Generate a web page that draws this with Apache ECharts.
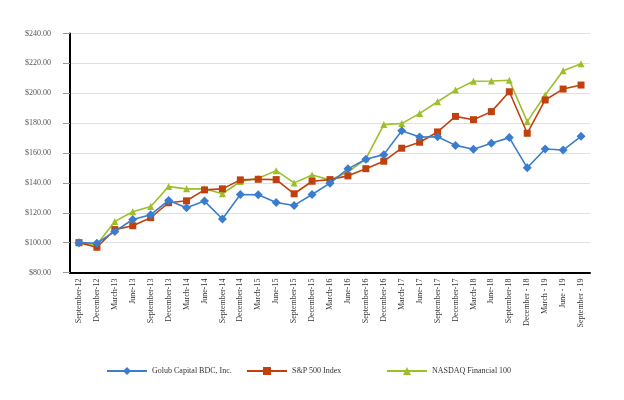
<!DOCTYPE html>
<html>
<head>
<meta charset="utf-8">
<script src="https://cdn.jsdelivr.net/npm/echarts@6/dist/echarts.min.js"></script>
<style>html,body{margin:0;padding:0;background:#fff}#c{width:624px;height:400px}</style>
</head>
<body>
<div id="c"></div>
<script>
const categories = ["September-12","December-12","March-13","June-13","September-13","December-13","March-14","June-14","September-14","December-14","March-15","June-15","September-15","December-15","March-16","June-16","September-16","December-16","March-17","June-17","September-17","December-17","March-18","June-18","September-18","December - 18","March - 19","June - 19","September - 19"];
const golub = [100,99.6,107.5,115.5,118.7,128.2,123.3,127.8,115.8,132.2,132,126.9,124.9,132.2,139.8,149.4,155.8,158.9,174.9,170.7,170.9,165.1,162.5,166.5,170.3,150.1,162.7,162,171.2];
const sp500 = [100,96.9,108.7,111.3,116.7,126.7,128,135.3,136,142,142.4,142.2,132.7,141.1,142.2,144.7,149.5,154.5,163.2,167.2,174.1,184.5,182.3,187.7,201,173.2,195.5,202.8,205.5];
const nasdaq = [100,98.7,114.2,120.7,124.2,137.5,136,136,132.7,140.9,143.1,148.2,140,145.3,142,147.2,156.1,179,179.7,186.5,194.3,202.1,208,208.2,208.7,181,198.8,215,219.8];
const yTicksMin = 80, yTicksMax = 240, yStep = 20;
const names = ["Golub Capital BDC, Inc.","S&P 500 Index","NASDAQ Financial 100"];
const colors = ["#3b7dcc","#c0410d","#9dbf2c"];
const font = "'Liberation Serif', 'Times New Roman', serif";

const chart = echarts.init(document.getElementById('c'), null, {renderer:'canvas'});
const legendLefts = [101, 241, 381];
chart.setOption({
  animation:false,
  backgroundColor:'#fff',
  grid:{left:70, right:34, top:33.5, bottom:127.5, containLabel:false},
  legend: names.map((n,i)=>({
    data:[n], left:legendLefts[i], top:362, itemWidth:40, itemHeight:10, itemGap:9,
    textStyle:{fontFamily:font, fontSize:8, color:'#333'}
  })),
  xAxis:{
    type:'category', data:categories, boundaryGap:true,
    axisLine:{lineStyle:{color:'#000', width:2}},
    axisTick:{alignWithLabel:true, length:5, lineStyle:{color:'#555'}},
    axisLabel:{rotate:90, interval:0, fontFamily:font, fontSize:8, color:'#333', margin:6}
  },
  yAxis:{
    type:'value', min:yTicksMin, max:yTicksMax, interval:yStep,
    axisLine:{show:true, lineStyle:{color:'#000', width:2}},
    axisTick:{show:true, length:7, lineStyle:{color:'#999'}},
    splitLine:{lineStyle:{color:'#e0e0e0', width:1}},
    axisLabel:{fontFamily:font, fontSize:8, color:'#555', margin:19,
      formatter:v=>'$'+v.toFixed(2)}
  },
  series:[
    {name:names[0], type:'line', data:golub, symbol:'diamond', symbolSize:9, color:colors[0], lineStyle:{width:1.6}, z:5},
    {name:names[1], type:'line', data:sp500, symbol:'rect', symbolSize:7, color:colors[1], lineStyle:{width:1.6}, z:4},
    {name:names[2], type:'line', data:nasdaq, symbol:'triangle', symbolSize:7, color:colors[2], lineStyle:{width:1.6}, z:3}
  ]
});
</script>
</body>
</html>
